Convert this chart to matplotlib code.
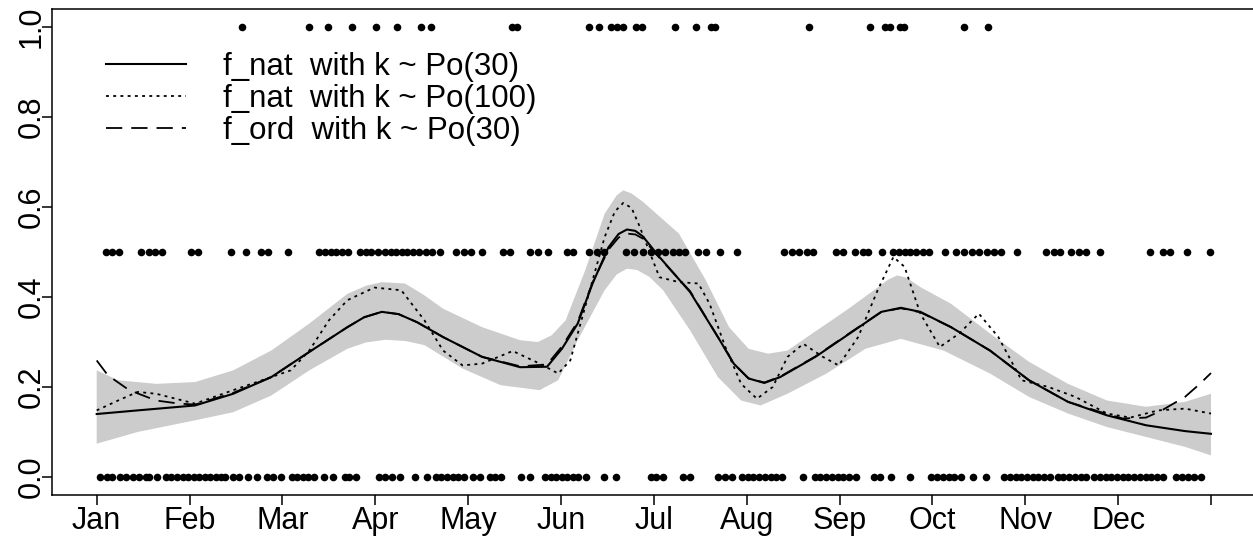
import matplotlib
matplotlib.use('Agg')
import matplotlib.pyplot as plt
import numpy as np

plt.rcParams['font.family'] = ['Liberation Sans', 'DejaVu Sans']

# --- data (x in months since Jan 1, 0..12) ---
month_labels = ['Jan', 'Feb', 'Mar', 'Apr', 'May', 'Jun',
                'Jul', 'Aug', 'Sep', 'Oct', 'Nov', 'Dec', '']
month_ticks = list(range(13))

# observations at y = 1.0
obs_1 = [1.569, 2.291, 2.490, 2.749, 3.011, 3.239, 3.494, 3.597, 4.473, 4.527,
         5.306, 5.410, 5.542, 5.606, 5.669, 5.805, 5.873, 6.223, 6.453, 6.618,
         6.659, 7.669, 8.328, 8.490, 8.539, 8.651, 8.696, 9.339, 9.603]

# observations at y = 0.5
obs_half = [0.095, 0.167, 0.239, 0.477, 0.565, 0.625, 0.704, 1.011, 1.091, 1.442,
            1.609, 1.768, 1.841, 2.059, 2.398, 2.458, 2.518, 2.577, 2.638, 2.709,
            2.837, 2.896, 2.956, 3.027, 3.107, 3.167, 3.227, 3.287, 3.346, 3.407,
            3.474, 3.545, 3.613, 3.693, 3.873, 3.953, 4.032, 4.152, 4.371, 4.450,
            4.669, 4.749, 4.861, 5.067, 5.128, 5.306, 5.388, 5.464, 5.705, 5.785,
            5.885, 5.964, 6.044, 6.124, 6.207, 6.268, 6.338, 6.474, 6.557, 6.713,
            6.899, 7.402, 7.484, 7.567, 7.649, 7.710, 7.958, 8.041, 8.164, 8.247,
            8.308, 8.452, 8.576, 8.639, 8.700, 8.761, 8.824, 8.894, 8.960, 9.133,
            9.257, 9.339, 9.422, 9.504, 9.587, 9.668, 9.743, 9.907, 10.224, 10.307,
            10.369, 10.493, 10.575, 10.658, 10.802, 11.338, 11.482, 11.556, 11.737, 11.985]

# observations at y = 0.0
obs_0 = [0.040, 0.107, 0.167, 0.254, 0.319, 0.386, 0.453, 0.526, 0.565, 0.653,
         0.744, 0.805, 0.864, 0.924, 0.983, 1.044, 1.103, 1.163, 1.222, 1.283,
         1.342, 1.382, 1.473, 1.529, 1.633, 1.721, 1.832, 1.900, 1.980, 2.099,
         2.159, 2.219, 2.279, 2.338, 2.446, 2.546, 2.669, 2.717, 2.788, 3.044,
         3.104, 3.175, 3.267, 3.426, 3.562, 3.653, 3.713, 3.773, 3.833, 3.892,
         3.960, 4.052, 4.131, 4.232, 4.291, 4.359, 4.570, 4.669, 4.828, 4.889,
         4.948, 5.008, 5.067, 5.128, 5.187, 5.267, 5.466, 5.594, 5.964, 6.024,
         6.096, 6.309, 6.392, 6.693, 6.762, 6.845, 6.948, 7.010, 7.072, 7.134,
         7.195, 7.258, 7.319, 7.381, 7.608, 7.732, 7.793, 7.855, 7.917, 7.978,
         8.041, 8.102, 8.177, 8.371, 8.432, 8.556, 8.754, 8.989, 9.050, 9.113,
         9.174, 9.235, 9.305, 9.442, 9.578, 9.772, 9.833, 9.895, 9.957, 10.019,
         10.081, 10.142, 10.205, 10.266, 10.349, 10.410, 10.472, 10.534, 10.595, 10.658,
         10.740, 10.802, 10.864, 10.926, 10.987, 11.049, 11.111, 11.173, 11.235, 11.297,
         11.358, 11.421, 11.482, 11.626, 11.689, 11.750, 11.812, 11.894]

# credible band
band_up_x = [0.0, 0.23, 0.64, 1.06, 1.47, 1.88, 2.29, 2.70, 2.90, 3.07, 3.32, 3.52,
             3.73, 4.15, 4.56, 4.75, 4.90, 5.05, 5.26, 5.47, 5.60, 5.67, 5.76, 5.88,
             6.27, 6.56, 6.81, 7.02, 7.23, 7.44, 7.65, 8.07, 8.37, 8.52, 8.62, 8.72,
             8.87, 9.20, 9.62, 10.04, 10.46, 10.88, 11.30, 11.72, 12.0]
band_up_y = [0.237, 0.215, 0.207, 0.211, 0.237, 0.281, 0.341, 0.407, 0.425, 0.433,
             0.430, 0.405, 0.374, 0.333, 0.304, 0.300, 0.315, 0.348, 0.459, 0.585,
             0.626, 0.637, 0.630, 0.612, 0.541, 0.437, 0.333, 0.285, 0.274, 0.281,
             0.311, 0.370, 0.415, 0.438, 0.448, 0.443, 0.422, 0.385, 0.319, 0.256,
             0.207, 0.170, 0.156, 0.167, 0.185]
band_lo_x = [0.0, 0.44, 1.06, 1.47, 1.88, 2.29, 2.70, 2.90, 3.11, 3.33, 3.53, 3.94,
             4.35, 4.77, 4.97, 5.18, 5.47, 5.60, 5.71, 5.82, 5.95, 6.10, 6.39, 6.69,
             6.94, 7.15, 7.44, 7.86, 8.28, 8.66, 9.12, 9.62, 10.04, 10.46, 10.88,
             11.30, 11.72, 12.0]
band_lo_y = [0.074, 0.100, 0.126, 0.144, 0.181, 0.237, 0.285, 0.299, 0.305, 0.302,
             0.293, 0.241, 0.204, 0.193, 0.215, 0.304, 0.415, 0.450, 0.463, 0.460,
             0.445, 0.415, 0.326, 0.222, 0.170, 0.159, 0.185, 0.230, 0.285, 0.307,
             0.281, 0.230, 0.178, 0.141, 0.111, 0.089, 0.067, 0.048]

# f_nat with k ~ Po(30)
nat30_x = [0.0, 0.44, 1.06, 1.47, 1.88, 2.29, 2.70, 2.88, 3.07, 3.25, 3.45, 3.73,
           4.15, 4.56, 4.85, 5.01, 5.18, 5.34, 5.51, 5.62, 5.71, 5.80, 5.88, 6.06,
           6.39, 6.69, 6.86, 7.02, 7.19, 7.36, 7.74, 8.16, 8.45, 8.66, 8.87, 9.20,
           9.62, 10.04, 10.46, 10.88, 11.30, 11.72, 12.0]
nat30_y = [0.140, 0.148, 0.159, 0.185, 0.222, 0.278, 0.333, 0.355, 0.367, 0.362,
           0.344, 0.311, 0.267, 0.244, 0.245, 0.285, 0.341, 0.430, 0.510, 0.540,
           0.550, 0.547, 0.535, 0.489, 0.411, 0.311, 0.252, 0.219, 0.209, 0.222,
           0.267, 0.326, 0.367, 0.376, 0.367, 0.333, 0.281, 0.215, 0.167, 0.137,
           0.115, 0.102, 0.096]

# f_nat with k ~ Po(100)
nat100_x = [0.0, 0.23, 0.44, 0.64, 0.85, 1.06, 1.47, 1.88, 2.09, 2.29, 2.50, 2.70,
            2.99, 3.28, 3.53, 3.73, 3.94, 4.15, 4.48, 4.77, 4.97, 5.10, 5.26, 5.47,
            5.58, 5.67, 5.76, 5.84, 6.06, 6.27, 6.48, 6.60, 6.77, 6.94, 7.11, 7.28,
            7.44, 7.61, 7.82, 7.99, 8.20, 8.41, 8.58, 8.70, 8.87, 9.08, 9.29, 9.50,
            9.71, 9.96, 10.25, 10.54, 10.88, 11.13, 11.43, 11.72, 12.0]
nat100_y = [0.148, 0.170, 0.189, 0.185, 0.174, 0.163, 0.193, 0.222, 0.237, 0.281,
            0.348, 0.393, 0.421, 0.415, 0.348, 0.281, 0.248, 0.252, 0.280, 0.252,
            0.230, 0.259, 0.378, 0.533, 0.590, 0.609, 0.598, 0.560, 0.444, 0.433,
            0.430, 0.385, 0.289, 0.207, 0.174, 0.200, 0.267, 0.296, 0.267, 0.248,
            0.311, 0.415, 0.489, 0.467, 0.363, 0.289, 0.319, 0.363, 0.311, 0.215,
            0.200, 0.178, 0.141, 0.132, 0.148, 0.152, 0.141]

# f_ord with k ~ Po(30)
ord30_x = [0.0, 0.12, 0.35, 0.64, 0.89, 1.06, 1.47, 1.88, 2.29, 2.70, 2.88, 3.07,
           3.25, 3.45, 3.73, 4.15, 4.56, 4.85, 5.01, 5.18, 5.34, 5.51, 5.62, 5.71,
           5.80, 5.88, 6.06, 6.39, 6.69, 6.86, 7.02, 7.19, 7.36, 7.74, 8.16, 8.45,
           8.66, 8.87, 9.20, 9.62, 10.04, 10.46, 10.88, 11.05, 11.30, 11.47, 11.72,
           11.88, 12.0]
ord30_y = [0.259, 0.226, 0.193, 0.170, 0.163, 0.161, 0.187, 0.222, 0.278, 0.333,
           0.355, 0.367, 0.362, 0.344, 0.311, 0.267, 0.246, 0.250, 0.290, 0.345,
           0.432, 0.505, 0.532, 0.541, 0.539, 0.530, 0.487, 0.413, 0.311, 0.252,
           0.219, 0.210, 0.223, 0.268, 0.327, 0.367, 0.375, 0.366, 0.333, 0.281,
           0.215, 0.167, 0.140, 0.130, 0.132, 0.148, 0.178, 0.207, 0.231]

# --- plot ---
W, H = 1253, 545
fig = plt.figure(figsize=(W / 100, H / 100), dpi=100)
x0, x1 = 96.7, 1211.0
pad = 0.04 * (x1 - x0)
ax = fig.add_axes([(x0 - pad) / W, (H - 495.0) / H, (x1 - x0 + 2 * pad) / W, (495.0 - 9.0) / H])

# grey band
band_x = np.concatenate([band_up_x, band_lo_x[::-1]])
band_y = np.concatenate([band_up_y, band_lo_y[::-1]])
ax.fill(band_x, band_y, color='#CCCCCC', lw=0, zorder=1)

# observations
dot_kw = dict(s=30, color='black', lw=0, zorder=2)
ax.scatter(obs_1, [1.0] * len(obs_1), **dot_kw)
ax.scatter(obs_half, [0.5] * len(obs_half), **dot_kw)
ax.scatter(obs_0, [0.0] * len(obs_0), **dot_kw)

# curves
ax.plot(nat30_x, nat30_y, color='black', lw=1.5, zorder=3,
        label='f_nat  with k ~ Po(30)')
ax.plot(nat100_x, nat100_y, color='black', lw=1.3, ls=(0, (1.6, 2.4)), zorder=3,
        label='f_nat  with k ~ Po(100)')
ax.plot(ord30_x, ord30_y, color='black', lw=1.3, ls=(0, (9, 5)), zorder=3,
        label='f_ord  with k ~ Po(30)')

ax.set_xlim(-0.48, 12.48)
ax.set_ylim(-0.04, 1.04)

ax.set_xticks(month_ticks)
ax.set_xticklabels(month_labels)
ax.set_yticks([0.0, 0.2, 0.4, 0.6, 0.8, 1.0])
ax.set_yticklabels(['0.0', '0.2', '0.4', '0.6', '0.8', '1.0'], rotation=90, va='center')
ax.tick_params(axis='both', labelsize=22, length=7, width=1.1, color='black')
ax.tick_params(axis='x', pad=1)
ax.tick_params(axis='y', pad=-3)
for sp in ax.spines.values():
    sp.set_linewidth(1.1)

ax.legend(loc='upper left', bbox_to_anchor=(106 / W, 1 - 52 / H),
          bbox_transform=fig.transFigure, frameon=False, fontsize=22.5,
          handlelength=2.55, handletextpad=1.2, labelspacing=0.07, borderpad=0,
          borderaxespad=0)

fig.savefig('out.png', dpi=100)
